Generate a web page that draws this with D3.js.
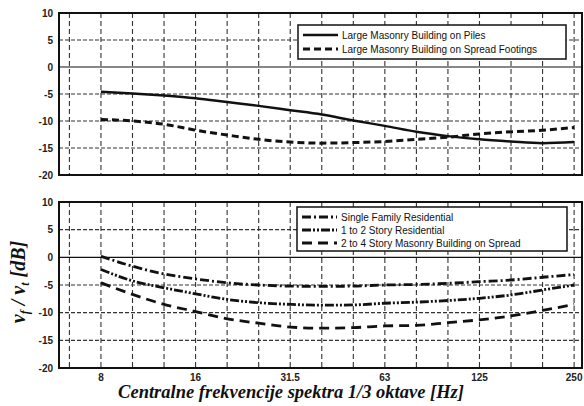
<!DOCTYPE html>
<html>
<head>
<meta charset="utf-8">
<script src="https://cdn.jsdelivr.net/npm/d3@7"></script>
<style>
  html, body { margin: 0; padding: 0; background: #fff; }
  svg { display: block; }
</style>
</head>
<body>
<div id="chart"></div>
<script>
// 1/3-octave band centres (index 0..15), evenly spaced on the axis
const BANDS = ["8", "10", "12.5", "16", "20", "25", "31.5", "40", "50", "63", "80", "100", "125", "160", "200", "250"];
const X_TICK_LABELS = ["8", "16", "31.5", "63", "125", "250"];
const Y_TICKS = [10, 5, 0, -5, -10, -15, -20];

// top panel
const PILES = [-4.6, -4.9, -5.3, -5.8, -6.5, -7.2, -8.0, -8.8, -9.9, -10.9, -12.0, -12.8, -13.4, -13.8, -14.1, -13.9];
const SPREAD_FOOTINGS = [-9.7, -10.0, -10.6, -11.7, -12.6, -13.4, -13.9, -14.1, -14.0, -13.8, -13.4, -13.0, -12.4, -12.0, -11.7, -11.2];

// bottom panel
const SINGLE_FAMILY = [0.2, -1.6, -3.0, -3.9, -4.6, -5.0, -5.2, -5.25, -5.2, -5.0, -4.9, -4.7, -4.4, -4.1, -3.6, -3.1];
const ONE_TO_TWO = [-2.2, -4.25, -5.5, -6.6, -7.6, -8.2, -8.5, -8.65, -8.6, -8.3, -8.1, -7.8, -7.4, -6.8, -5.9, -5.0];
const TWO_TO_FOUR = [-4.6, -6.7, -8.5, -9.8, -11.1, -11.9, -12.6, -12.8, -12.7, -12.4, -12.3, -11.8, -11.3, -10.6, -9.6, -8.5];

const width = 584;
const height = 406;
const left = 59;
const right = 582;

const svg = d3.select("#chart").append("svg").attr("width", width).attr("height", height);

const x = d3.scaleLinear().domain([-1.33, 15.25]).range([left, right]);

const sans = "'Liberation Sans', Arial, sans-serif";
const serif = "'Liberation Serif', 'Times New Roman', serif";

function drawPanel({ top, bottom, series, legend }) {
  const y = d3.scaleLinear().domain([-20, 10]).range([bottom, top]);
  const g = svg.append("g");

  // vertical grid, one per 1/3 octave
  g.append("g")
    .selectAll("line")
    .data(d3.range(-1, 16))
    .join("line")
    .attr("x1", (d) => x(d))
    .attr("x2", (d) => x(d))
    .attr("y1", top)
    .attr("y2", bottom)
    .attr("stroke", "#333")
    .attr("stroke-width", 1.1)
    .attr("stroke-dasharray", "5,3");

  // horizontal grid
  g.append("g")
    .selectAll("line")
    .data(Y_TICKS.filter((v) => v > -20 && v < 10))
    .join("line")
    .attr("x1", left)
    .attr("x2", right)
    .attr("y1", (d) => y(d))
    .attr("y2", (d) => y(d))
    .attr("stroke", (d) => (d === 0 ? "#111" : "#333"))
    .attr("stroke-width", 1.1)
    .attr("stroke-dasharray", (d) => (d === 0 ? null : "4,2"));

  // y tick labels
  g.append("g")
    .selectAll("text")
    .data(Y_TICKS)
    .join("text")
    .attr("x", 53)
    .attr("y", (d) => y(d) + 3.5)
    .attr("text-anchor", "end")
    .attr("font-family", sans)
    .attr("font-weight", "bold")
    .attr("font-size", 10)
    .attr("fill", "#222")
    .text((d) => d);

  const line = d3
    .line()
    .curve(d3.curveMonotoneX)
    .x((d, i) => x(i))
    .y((d) => y(d));

  g.append("g")
    .selectAll("path")
    .data(series)
    .join("path")
    .attr("fill", "none")
    .attr("stroke", "#111")
    .attr("stroke-width", (d) => d.width)
    .attr("stroke-dasharray", (d) => d.dash)
    .attr("d", (d) => line(d.values));

  // frame
  g.append("rect")
    .attr("x", left)
    .attr("y", top)
    .attr("width", right - left)
    .attr("height", bottom - top)
    .attr("fill", "none")
    .attr("stroke", "#111")
    .attr("stroke-width", 2);

  // legend
  const lg = g.append("g");
  lg.append("rect")
    .attr("x", legend.x)
    .attr("y", legend.y)
    .attr("width", legend.w)
    .attr("height", legend.h)
    .attr("fill", "#fff")
    .attr("stroke", "#111")
    .attr("stroke-width", 1.5);
  series.forEach((s, i) => {
    const ly = legend.y + legend.first + i * legend.step;
    lg.append("line")
      .attr("x1", legend.x + 5)
      .attr("x2", legend.x + 40)
      .attr("y1", ly)
      .attr("y2", ly)
      .attr("stroke", "#111")
      .attr("stroke-width", s.width)
      .attr("stroke-dasharray", s.dash);
    lg.append("text")
      .attr("x", legend.x + 44)
      .attr("y", ly + 3.5)
      .attr("font-family", sans)
      .attr("font-size", 10)
      .attr("fill", "#111")
      .text(s.name);
  });
}

drawPanel({
  top: 13,
  bottom: 175,
  series: [
    { name: "Large Masonry Building on Piles", values: PILES, dash: null, width: 2.5 },
    { name: "Large Masonry Building on Spread Footings", values: SPREAD_FOOTINGS, dash: "7,4", width: 3 },
  ],
  legend: { x: 298, y: 25, w: 268, h: 34, first: 10, step: 14 },
});

drawPanel({
  top: 202,
  bottom: 368,
  series: [
    { name: "Single Family Residential", values: SINGLE_FAMILY, dash: "9,3,2,3", width: 2.8 },
    { name: "1 to 2 Story Residential", values: ONE_TO_TWO, dash: "9,2,2,2,2,2", width: 2.8 },
    { name: "2 to 4 Story Masonry Building on Spread", values: TWO_TO_FOUR, dash: "10,6", width: 2.8 },
  ],
  legend: { x: 297, y: 207, w: 270, h: 44, first: 10, step: 13 },
});

// x tick labels
svg
  .append("g")
  .selectAll("text")
  .data(X_TICK_LABELS)
  .join("text")
  .attr("x", (d) => x(BANDS.indexOf(d)))
  .attr("y", 381)
  .attr("text-anchor", "middle")
  .attr("font-family", sans)
  .attr("font-weight", "bold")
  .attr("font-size", 10)
  .attr("fill", "#222")
  .text((d) => d);

// x title
svg
  .append("text")
  .attr("x", 291)
  .attr("y", 398)
  .attr("text-anchor", "middle")
  .attr("font-family", serif)
  .attr("font-style", "italic")
  .attr("font-weight", "bold")
  .attr("font-size", 18.5)
  .attr("fill", "#111")
  .text("Centralne frekvencije spektra 1/3 oktave [Hz]");

// y title: v_f / v_t [dB]
const yTitle = svg
  .append("text")
  .attr("transform", "translate(25,282) rotate(-90)")
  .attr("text-anchor", "middle")
  .attr("font-family", serif)
  .attr("font-style", "italic")
  .attr("font-weight", "bold")
  .attr("font-size", 20)
  .attr("fill", "#111");
yTitle.append("tspan").text("v");
yTitle.append("tspan").attr("font-size", 12).attr("dy", 4).text("f");
yTitle.append("tspan").attr("dy", -4).text(" / v");
yTitle.append("tspan").attr("font-size", 12).attr("dy", 4).text("t");
yTitle.append("tspan").attr("dy", -4).text(" [dB]");
</script>
</body>
</html>
